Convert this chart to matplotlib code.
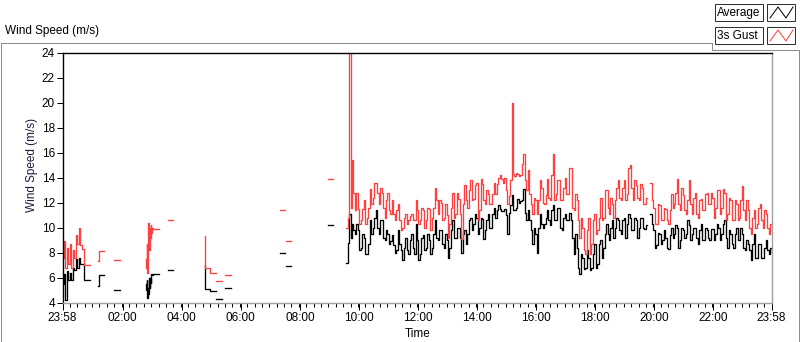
import numpy as np
import matplotlib
matplotlib.use("Agg")
import matplotlib.pyplot as plt
from matplotlib.lines import Line2D
from matplotlib.patches import Rectangle

plt.rcParams['font.family'] = ['Liberation Sans', 'DejaVu Sans']

W, H = 800, 342

def px(x, y):
    # pixel position (from top left) -> figure fraction
    return x / W, 1 - y / H

# time axis: hours after 23:58
xtick_pos = [0.0, 2.0333, 4.0333, 6.0333, 8.0333, 10.0333, 12.0333,
             14.0333, 16.0333, 18.0333, 20.0333, 22.0333, 24.0]
xtick_labels = ['23:58', '02:00', '04:00', '06:00', '08:00', '10:00', '12:00',
                '14:00', '16:00', '18:00', '20:00', '22:00', '23:58']
yticks = [4, 6, 8, 10, 12, 14, 16, 18, 20, 22, 24]

# sparse early part of the day (gaps between the pieces)
seg_a_t = [0.00, 0.05, 0.10, 0.15, 0.20, 0.25, 0.30, 0.35, 0.40, 0.45, 0.50, 0.55, 0.60, 0.65, 0.72, 0.92]
seg_a_gust = [7.6, 8.9, 6.8, 8.4, 7.1, 8.7, 6.8, 8.2, 7.6, 9.4, 8.7, 10.0, 8.6, 8.3, 7.0, 7.0]
seg_a_avg = [5.5, 6.3, 4.2, 6.5, 5.8, 6.4, 5.8, 6.8, 6.6, 7.5, 6.8, 7.6, 7.1, 7.1, 5.8, 5.8]

seg_b_t = [1.19, 1.22, 1.42]
seg_b_gust = [7.3, 8.15, 8.15]
seg_b_avg = [5.3, 6.2, 6.2]

seg_c_t = [1.73, 1.93]
seg_c_gust = [7.4, 7.4]
seg_c_avg = [5.0, 5.0]

seg_d_t = [2.81, 2.83, 2.85, 2.87, 2.89, 2.91, 2.93, 2.95, 2.97, 2.99, 3.01, 3.03, 3.05, 3.25]
seg_d_gust = [7.5, 6.8, 8.7, 6.4, 8.0, 10.4, 8.2, 10.0, 9.2, 10.2, 9.6, 10.0, 9.9, 9.9]
seg_d_avg = [5.5, 5.0, 5.8, 4.4, 5.2, 4.7, 6.0, 5.2, 6.0, 5.6, 6.3, 6.2, 6.3, 6.3]

seg_e_t = [3.56, 3.73]
seg_e_gust = [10.6, 10.6]
seg_e_avg = [6.6, 6.6]

seg_f_t = [4.81, 4.82, 4.98, 5.19]
seg_f_gust = [9.3, 6.8, 6.4, 6.4]
seg_f_avg = [7.0, 5.1, 4.9, 4.9]

seg_g_t = [5.20, 5.39]
seg_g_gust = [5.7, 5.7]
seg_g_avg = [4.3, 4.3]

seg_h_t = [5.49, 5.69]
seg_h_gust = [6.2, 6.2]
seg_h_avg = [5.2, 5.2]

seg_i_t = [7.36, 7.53]
seg_i_gust = [11.4, 11.4]
seg_i_avg = [8.0, 8.0]

seg_j_t = [7.56, 7.73]
seg_j_gust = [8.9, 8.9]
seg_j_avg = [6.9, 6.9]

seg_k_t = [8.98, 9.15]
seg_k_gust = [13.9, 13.9]
seg_k_avg = [10.2, 10.2]

# continuous record from 09:34 onwards, one sample every 3 minutes
main_start = 9.6
main_step = 0.05
gust_main = [
    10.0, 10.8, 24.0, 11.6, 15.4, 12.8, 11.4, 12.8,
    11.5, 10.3, 10.6, 11.5, 12.2, 10.3, 10.8, 11.6, 13.1, 11.9, 12.4, 13.6, 13.6, 12.8, 11.9, 13.2, 12.8, 11.6, 10.8, 12.2,
    12.8, 11.4, 11.1, 12.2, 11.1, 10.6, 11.4, 11.9, 10.6, 9.8, 10.0, 10.8, 11.1, 10.3, 10.6, 10.9, 11.1, 10.6, 10.6, 12.2,
    11.4, 10.3, 10.6, 11.6, 11.4, 10.0, 10.6, 11.6, 11.5, 9.8, 10.8, 11.6, 13.2, 12.2, 11.1, 12.2, 12.0, 10.6, 10.8, 11.9,
    11.0, 9.2, 10.3, 11.6, 12.8, 10.8, 11.1, 12.8, 12.3, 11.1, 9.1, 11.9, 13.4, 12.2, 11.6, 13.0, 13.8, 12.2, 12.3, 13.4,
    13.6, 10.6, 11.4, 13.9, 13.5, 12.2, 11.9, 13.0, 12.7, 11.9, 11.9, 12.7, 13.6, 12.7, 13.5, 14.0, 14.2, 13.9, 13.6, 14.0,
    13.0, 11.9, 12.5, 13.8, 20.0, 14.3, 14.1, 14.4, 14.3, 14.1, 14.2, 15.1, 15.9, 13.8, 13.0, 14.6, 12.7, 11.9, 11.1, 12.4,
    12.2, 11.1, 12.2, 13.8, 13.2, 12.0, 11.9, 12.6, 13.9, 12.4, 12.2, 14.2, 15.9, 12.2, 12.7, 13.8, 13.8, 12.2, 12.2, 13.2,
    14.0, 12.7, 12.7, 14.8, 14.8, 11.6, 11.4, 12.7, 12.2, 10.6, 9.2, 10.8, 10.0, 8.2, 7.9, 9.8, 10.8, 7.9, 8.7, 10.6,
    11.1, 9.5, 9.8, 10.8, 12.4, 10.6, 10.8, 13.0, 13.0, 11.6, 11.1, 12.4, 11.9, 10.8, 12.2, 13.2, 13.8, 12.4, 12.2, 13.2,
    13.8, 12.2, 12.7, 14.8, 15.0, 13.2, 12.2, 13.8, 13.4, 12.4, 12.2, 13.5, 13.2, 11.9, 11.9, 12.4, np.nan, np.nan, 13.6, 12.2,
    11.6, 10.3, 10.3, 11.9, 11.8, 10.6, 10.6, 11.6, 11.5, 10.6, 10.3, 11.4, 12.7, 11.6, 11.9, 12.8, 13.9, 11.9, 11.4, 13.2,
    12.6, 11.4, 11.1, 12.2, 13.8, 11.9, 11.1, 12.4, 12.8, 11.1, 10.8, 12.2, 12.3, 11.4, 11.4, 12.7, 12.8, 11.9, 11.9, 12.8,
    12.4, 10.8, 11.6, 13.0, 13.0, 11.1, 11.6, 13.1, 12.8, 10.6, 11.1, 12.4, 12.2, 10.6, 10.6, 12.2, 11.9, 10.6, 10.8, 12.2,
    13.3, 11.4, 10.6, 12.2, 11.4, 10.0, 9.5, 10.8, 11.4, 10.0, 10.3, 11.6, 11.9, 10.6, 10.0, 11.4, 11.1, 10.0, 9.5, 10.3,
    10.2,
]
avg_main = [
    7.2, 8.8, 11.1, 9.2, 10.3, 9.8, 9.5, 10.3,
    9.8, 8.2, 8.4, 9.5, 9.2, 7.9, 7.9, 8.7, 10.6, 9.5, 10.0, 10.8, 11.4, 10.0, 9.5, 10.6, 10.6, 9.2, 9.0, 9.8,
    9.5, 8.7, 8.9, 9.4, 8.6, 8.0, 8.2, 9.8, 8.7, 8.2, 7.4, 8.4, 9.2, 8.2, 7.9, 9.0, 9.5, 8.4, 7.9, 10.3,
    9.0, 7.4, 7.9, 9.2, 9.4, 8.2, 8.4, 9.5, 9.0, 7.9, 8.4, 9.5, 10.6, 9.2, 9.0, 9.8, 9.8, 8.7, 8.4, 9.5,
    9.0, 7.6, 8.4, 9.8, 10.6, 9.2, 9.2, 10.0, 10.0, 9.2, 8.0, 9.5, 9.8, 8.7, 9.5, 10.6, 10.8, 9.8, 10.3, 11.1,
    10.8, 9.5, 10.0, 10.8, 10.7, 9.1, 9.8, 10.6, 11.1, 10.0, 10.0, 11.1, 11.6, 10.8, 11.4, 11.8, 11.5, 11.3, 11.3, 11.5,
    11.0, 9.5, 11.2, 11.8, 12.6, 11.4, 11.4, 11.6, 12.3, 12.0, 12.1, 12.2, 13.1, 11.2, 10.6, 11.4, 10.6, 9.8, 8.7, 10.0,
    9.5, 8.0, 10.0, 11.1, 10.3, 10.0, 10.3, 10.8, 11.4, 10.6, 10.2, 11.4, 11.8, 10.6, 10.6, 11.6, 11.6, 10.0, 9.8, 10.8,
    11.1, 10.6, 10.6, 11.2, 10.6, 9.2, 7.9, 9.5, 8.4, 6.8, 6.3, 7.9, 7.6, 6.7, 6.8, 8.2, 7.6, 6.6, 6.8, 7.9,
    8.7, 6.8, 7.1, 8.7, 9.0, 7.6, 8.4, 9.5, 10.3, 9.5, 9.0, 10.0, 10.6, 9.2, 10.0, 10.8, 10.6, 9.8, 9.5, 10.6,
    10.8, 9.2, 10.3, 11.1, 10.8, 9.8, 9.8, 10.8, 10.6, 9.2, 10.0, 10.8, 10.8, 10.0, 9.9, 10.2, np.nan, np.nan, 11.1, 10.3,
    9.8, 8.4, 8.6, 9.6, 9.5, 8.7, 9.0, 9.8, 9.2, 8.4, 8.3, 9.4, 10.0, 9.2, 9.5, 10.2, 10.0, 8.4, 9.0, 10.0,
    9.8, 9.2, 9.5, 10.6, 10.2, 9.0, 9.5, 10.0, 10.0, 9.2, 8.7, 9.8, 10.3, 9.0, 9.0, 10.0, 9.8, 9.2, 9.0, 9.9,
    9.9, 9.0, 9.5, 10.3, 10.0, 9.0, 9.5, 10.3, 10.6, 9.2, 8.4, 9.8, 9.5, 8.7, 8.4, 9.5, 10.0, 9.0, 9.0, 10.0,
    9.5, 8.4, 8.2, 9.0, 8.7, 8.2, 7.4, 8.7, 9.5, 7.6, 7.6, 8.7, 8.7, 7.6, 7.6, 8.4, 9.0, 8.2, 7.9, 8.4,
    8.0,
]

segments = [
    (seg_a_t, seg_a_avg, seg_a_gust),
    (seg_b_t, seg_b_avg, seg_b_gust),
    (seg_c_t, seg_c_avg, seg_c_gust),
    (seg_d_t, seg_d_avg, seg_d_gust),
    (seg_e_t, seg_e_avg, seg_e_gust),
    (seg_f_t, seg_f_avg, seg_f_gust),
    (seg_g_t, seg_g_avg, seg_g_gust),
    (seg_h_t, seg_h_avg, seg_h_gust),
    (seg_i_t, seg_i_avg, seg_i_gust),
    (seg_j_t, seg_j_avg, seg_j_gust),
    (seg_k_t, seg_k_avg, seg_k_gust),
]

RED = '#ff4040'
GRAY = '#8c8c8c'
LW = 0.72   # one pixel at 100 dpi
DLW = 0.95  # data lines

fig = plt.figure(figsize=(W / 100, H / 100), dpi=100)
fig.patch.set_facecolor('white')

ax = fig.add_axes([62.5 / W, 1 - 302.5 / H, 709 / W, 250 / H])
ax.set_facecolor('white')

for t, a, g in segments:
    ax.plot(t, a, color='black', lw=DLW, drawstyle='steps-post')
    ax.plot(t, g, color=RED, lw=DLW, drawstyle='steps-post')

t_avg = main_start + main_step * np.arange(len(avg_main))
t_gust = main_start + main_step * np.arange(len(gust_main))
ax.plot(t_avg, avg_main, color='black', lw=DLW, drawstyle='steps-post')
ax.plot(t_gust, gust_main, color=RED, lw=DLW, drawstyle='steps-post')

ax.set_xlim(0, 24)
ax.set_ylim(4, 24)
ax.set_yticks(yticks)
ax.set_xticks(xtick_pos)
ax.set_xticklabels(xtick_labels)
ax.set_xticks(np.arange(0, 24.01, 0.25), minor=True)

ax.tick_params(axis='x', which='major', direction='out', length=5, width=LW, pad=1.5,
               labelsize=8.5, colors='black')
ax.tick_params(axis='x', which='minor', direction='out', length=3, width=LW, color='black')
ax.tick_params(axis='y', which='major', direction='out', length=4, width=LW, pad=1.5,
               labelsize=8.5, colors='black')

ax.spines['left'].set_color('black')
ax.spines['top'].set_color('black')
ax.spines['right'].set_color('#a0a0a0')
ax.spines['bottom'].set_color('#a0a0a0')
for s in ax.spines.values():
    s.set_linewidth(1.0)

# axis names
fig.text(*px(32, 165), 'Wind Speed (m/s)', rotation=90, ha='center', va='center',
         fontsize=8.5, color='#1a1a40')
fig.text(*px(418, 334), 'Time', ha='center', va='center', fontsize=8.5, color='black')
fig.text(*px(5, 31), 'Wind Speed (m/s)', ha='left', va='center', fontsize=8.5, color='black')

# outer frame of the chart control
frame_x = [712, 0.5, 0.5, 798.5, 798.5, 712, 712]
frame_y = [42.5, 42.5, 341.5, 341.5, 49.5, 49.5, 42.5]
fig.add_artist(Line2D([x / W for x in frame_x], [1 - y / H for y in frame_y],
                      color=GRAY, lw=LW, transform=fig.transFigure))

# legend boxes
legend_rows = [('Average', 'black', 4), ('3s Gust', RED, 27)]
for name, col, top in legend_rows:
    x0, y0 = px(715, top + 17)
    fig.add_artist(Rectangle((x0, y0), 48 / W, 17 / H, transform=fig.transFigure,
                             facecolor='white', edgecolor='#303030', lw=LW))
    fig.text(*px(717, top + 9), name, ha='left', va='center', fontsize=8.5, color='black')
    x1, y1 = px(767, top + 17)
    fig.add_artist(Rectangle((x1, y1), 28 / W, 17 / H, transform=fig.transFigure,
                             facecolor='white', edgecolor='#303030', lw=LW))
    zx = [770, 778, 786, 793]
    zy = [top + 14, top + 3, top + 14, top + 3]
    fig.add_artist(Line2D([x / W for x in zx], [1 - y / H for y in zy],
                          color=col, lw=LW, transform=fig.transFigure))

fig.savefig('out.png', dpi=100, facecolor='white')
